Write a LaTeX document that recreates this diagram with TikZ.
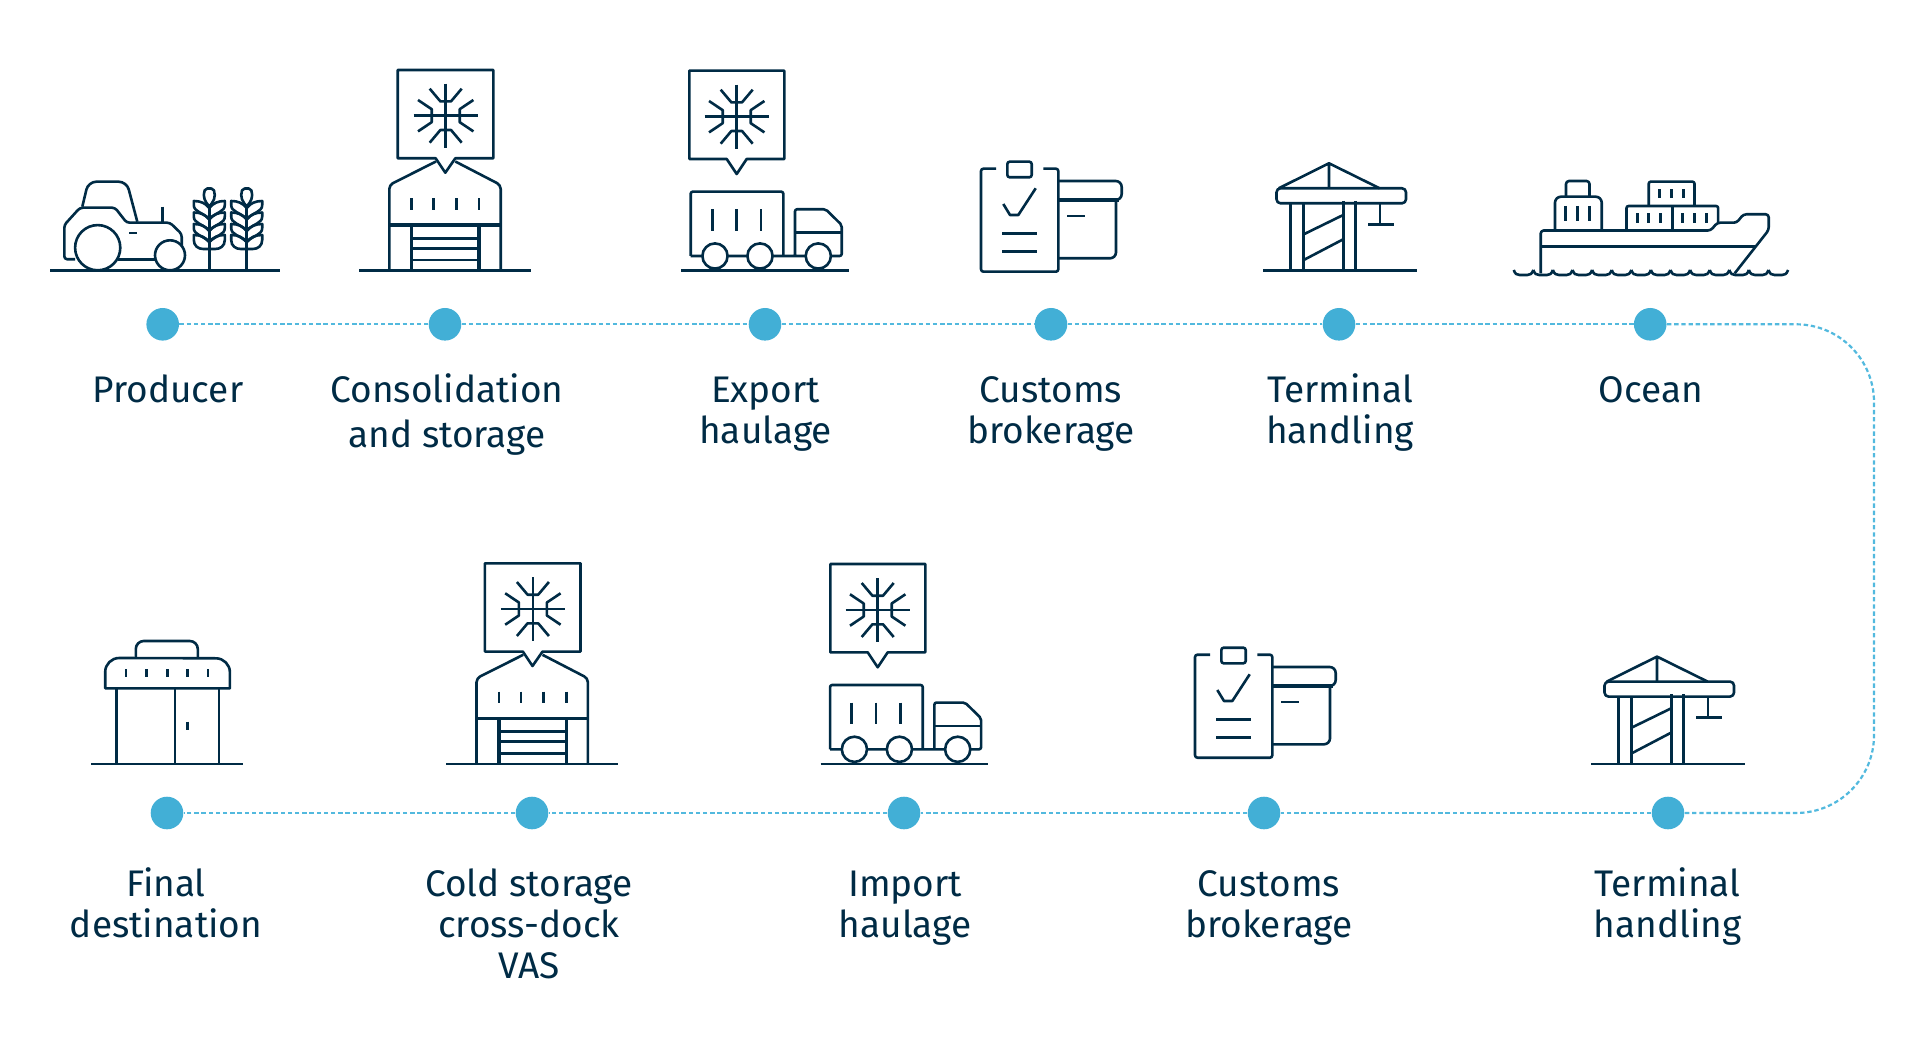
\documentclass[tikz,border=0pt]{standalone}
\usepackage{fontspec}
\setmainfont{Fira Sans}
\definecolor{ink}{HTML}{002B45}
\definecolor{dotblue}{HTML}{42AFD6}
\definecolor{routeblue}{HTML}{52B9DE}
\tikzset{
  icon/.style={draw=ink,line width=1.3pt,line join=round,fill=none},
  heavy/.style={draw=ink,line width=1.7pt},
  wheel/.style={draw=ink,line width=1.3pt,fill=white},
  stopdot/.style={circle,fill=dotblue,draw=none,inner sep=0pt,minimum size=16.3pt},
  route/.style={draw=routeblue,line width=1.1pt,dash pattern=on 2.2pt off 1.4pt},
  lab/.style={text=ink,inner sep=0pt,anchor=base,align=center,font=\fontsize{18.5}{20.5}\selectfont},
  pics/flake/.style={code={
    \draw[icon] (0,-32)--(0,32) (-32,0)--(32,0);
    \draw[icon] (-16,-27)--(-5.3,-14.3)--(5.3,-14.3)--(16,-27);
    \draw[icon] (-16,27)--(-5.3,14.3)--(5.3,14.3)--(16,27);
    \draw[icon] (-27.7,-15.7)--(-14,-6.5)--(-14,6.5)--(-27.7,15.7);
    \draw[icon] (27.7,-15.7)--(14,-6.5)--(14,6.5)--(27.7,15.7);
  }},
  pics/truckcallout/.style={code={
    \draw[icon] (689.3,70.7)--(784.3,70.7)--(784.3,159)--(746.7,159)--(736.7,174)--(726.7,159)--(689.3,159)--cycle;
    \pic at (736.7,116.7) {flake};
  }},
  pics/truckicon/.style={code={
    \draw[icon,rounded corners=1pt] (690.7,256)--(690.7,191.7)--(783.3,191.7)--(783.3,256);
    \draw[icon] (712.3,209.3)--(712.3,230.7) (736.7,209.3)--(736.7,230.7) (761,209.3)--(761,230.7);
    \draw[icon,rounded corners=1pt] (690.7,256)--(841.7,256)--(841.7,225)--(825.7,209.3)--(795,209.3)--(795,256);
    \draw[icon] (795,232.7)--(841.7,232.7);
    \draw[wheel] (715,256) circle[radius=6.3pt];
    \draw[wheel] (760,256) circle[radius=6.3pt];
    \draw[wheel] (818.3,256) circle[radius=6.3pt];
    \draw[icon] (681.3,270.7)--(849,270.7);
  }},
  pics/storeicon/.style={code={
    \draw[icon] (397.7,70)--(493.3,70)--(493.3,158.3)--(455.3,158.3)--(445.3,172.7)--(435.7,158.3)--(397.7,158.3)--cycle;
    \pic at (445.7,115.7) {flake};
    \draw[icon,rounded corners=2pt] (436,161.5)--(389.3,185)--(389.3,270.7);
    \draw[icon,rounded corners=2pt] (455.3,161.5)--(500.7,185)--(500.7,270.7);
    \draw[heavy] (389.3,225)--(500.7,225);
    \draw[heavy] (411.7,225)--(411.7,270.7) (479,225)--(479,270.7);
    \draw[icon] (411.7,238.3)--(479,238.3) (411.7,248.3)--(479,248.3) (411.7,260)--(479,260);
    \draw[icon] (411.7,198.3)--(411.7,210) (433.7,198.3)--(433.7,210) (456.3,198.3)--(456.3,210) (479,198.3)--(479,210);
    \draw[icon] (359,270.7)--(531,270.7);
  }},
  pics/customsicon/.style={code={
    \draw[icon,rounded corners=1.2pt] (996,168.7)--(981,168.7)--(981,271.7)--(1058.3,271.7)--(1058.3,168.7)--(1043.3,168.7);
    \draw[icon,rounded corners=1.2pt] (1007.3,161.7) rectangle (1031.7,177.3);
    \draw[icon] (1003.3,204)--(1010,215)--(1018.3,215)--(1035.7,188.3);
    \draw[icon] (1002.3,233.3)--(1036.7,233.3) (1002.3,251.7)--(1036.7,251.7);
    \draw[icon,rounded corners=3pt] (1058.3,181)--(1121.7,181)--(1121.7,200)--(1058.3,200);
    \draw[heavy] (1058.3,200)--(1119,200);
    \draw[icon,rounded corners=3pt] (1116,200)--(1116,258.3)--(1058.3,258.3);
    \draw[icon] (1067.3,216)--(1085,216);
  }},
  pics/craneicon/.style={code={
    \draw[icon,rounded corners=2pt] (1276.5,188.3) rectangle (1406,203.3);
    \draw[icon] (1278.7,188.3)--(1329,163.3)--(1379.6,188.3) (1329,163.3)--(1329,188.3);
    \draw[icon] (1290.7,203.3)--(1290.7,270.7) (1303.7,203.3)--(1303.7,270.7) (1343.2,201)--(1343.2,270.7) (1355.4,201)--(1355.4,270.7);
    \draw[icon] (1303.7,234.3)--(1343.2,215) (1303.7,260)--(1343.2,239.3);
    \draw[icon] (1380,203.3)--(1380,224.3) (1368,224.3)--(1393.5,224.3);
    \draw[icon] (1263,270.7)--(1416.5,270.7);
  }},
}
\begin{document}
\begin{tikzpicture}[x=0.5pt,y=-0.5pt]
\useasboundingbox (0,0) rectangle (1920,1058);
% --- tractor and wheat
\draw[icon,rounded corners=1.5pt] (75,259.3)--(64.3,259.3)--(64.3,225)--(80,207.7)--(115,207.7)--(126.7,222.7)--(170,222.7)--(181.7,234)--(181.7,250);
\draw[icon] (118,259.3)--(156,259.3);
\draw[icon,rounded corners=4pt] (82.3,206.7)--(88.3,181.7)--(126.7,181.7)--(137.3,221.7);
\draw[icon] (162.7,206.7)--(162.7,222.7) (129,233)--(137.3,233);
\draw[wheel] (97.7,247.7) circle[radius=11.3pt];
\draw[wheel] (170,255.3) circle[radius=7.5pt];
\foreach \sx in {209.3,246.7}{
  \draw[icon] (\sx,206)--(\sx,270.7);
  \draw[icon,rounded corners=1pt] (\sx,206.5)..controls ({\sx-4},202) and ({\sx-7},197)..({\sx-4},188.5)--({\sx+4},188.5)..controls ({\sx+7},197) and ({\sx+4},202)..(\sx,206.5);
  \foreach \sy in {201,212.5,224}{
    \draw[icon] (\sx,{\sy+7})..controls ({\sx-4},{\sy+2}) and ({\sx-9},\sy)..({\sx-15.5},\sy)--({\sx-15.5},{\sy+4})..controls ({\sx-15.5},{\sy+11}) and ({\sx-7},{\sy+11})..(\sx,{\sy+18});
    \draw[icon] (\sx,{\sy+7})..controls ({\sx+4},{\sy+2}) and ({\sx+9},\sy)..({\sx+15.5},\sy)--({\sx+15.5},{\sy+4})..controls ({\sx+15.5},{\sy+11}) and ({\sx+7},{\sy+11})..(\sx,{\sy+18});
  }
  \draw[icon] (\sx,242)..controls ({\sx-4},237) and ({\sx-9},235)..({\sx-15.5},235)--({\sx-15.5},240)..controls ({\sx-15.5},246) and ({\sx-11},249)..({\sx-6},249)--({\sx+6},249)..controls ({\sx+11},249) and ({\sx+15.5},246)..({\sx+15.5},240)--({\sx+15.5},235)..controls ({\sx+9},235) and ({\sx+4},237)..(\sx,242);
}
\draw[icon] (50,270.7)--(280,270.7);
% --- repeated icons
\pic at (0,0) {storeicon};
\pic at (0,0) {truckcallout};
\pic at (0,0) {truckicon};
\pic at (0,0) {customsicon};
\pic at (0,0) {craneicon};
\pic at (87.2,493.3) {storeicon};
\pic at (141,493.3) {truckcallout};
\pic at (139.4,493.3) {truckicon};
\pic at (214,486) {customsicon};
\pic at (328,493.3) {craneicon};
% --- ship
\begin{scope}[xshift=-1.15pt]
\draw[icon,rounded corners=1.5pt] (1543,273.3)--(1543,230.5)--(1713,230.5)--(1719.5,222.7)--(1739,222.7)--(1745.7,214.3)--(1771,214.3)--(1771,230)--(1737,273.3);
\draw[heavy] (1543,246.7)--(1758.7,246.7);
\draw[icon,rounded corners=3pt] (1557.3,230)--(1557.3,196.7)--(1604,196.7)--(1604,230);
\draw[icon,rounded corners=1.5pt] (1568.3,196.7)--(1568.3,181)--(1591.8,181)--(1591.8,196.7);
\draw[icon] (1568,206)--(1568,220.7) (1580,206)--(1580,220.7) (1592,206)--(1592,220.7);
\draw[icon,rounded corners=1pt] (1651,205)--(1651,181.7)--(1696.8,181.7)--(1696.8,205);
\draw[icon] (1662,189.3)--(1662,198.3) (1673.7,189.3)--(1673.7,198.3) (1685.5,189.3)--(1685.5,198.3);
\draw[icon,rounded corners=1pt] (1628.8,230)--(1628.8,206)--(1720.4,206)--(1720.4,222);
\draw[icon] (1675,206)--(1675,230);
\draw[icon] (1639.7,213.3)--(1639.7,222.7) (1651,213.3)--(1651,222.7) (1662.8,213.3)--(1662.8,222.7) (1684.6,213.3)--(1684.6,222.7) (1696.8,213.3)--(1696.8,222.7) (1708.6,213.3)--(1708.6,222.7);
\foreach \wx in {1516,1535.6,1555.2,1574.8,1594.4,1614,1633.6,1653.2,1672.8,1692.4,1712,1731.6,1751.2,1770.8}{
  \draw[icon] (\wx,270)..controls ({\wx+1.5},274) and ({\wx+3},275)..({\wx+6},275)--({\wx+13.6},275)..controls ({\wx+16.6},275) and ({\wx+18},274)..({\wx+19.6},270);
}
\end{scope}
% --- shop
\draw[icon,rounded corners=4pt] (135.8,658.3)--(135.8,641)--(197.8,641)--(197.8,658.3);
\draw[icon] (105.2,688.3)--(105.2,672) arc[start angle=180,end angle=90,radius=7pt] --(215.9,658.3) arc[start angle=90,end angle=0,radius=7pt] --(229.9,688.3)--cycle;
\draw[icon] (125.8,669.3)--(125.8,677.3) (146.5,669.3)--(146.5,677.3) (167.2,669.3)--(167.2,677.3) (187.4,669.3)--(187.4,677.3) (208.1,669.3)--(208.1,677.3);
\draw[icon] (116.3,688.3)--(116.3,764) (218.8,688.3)--(218.8,764) (174.8,688.3)--(174.8,764);
\draw[icon] (187.4,721.7)--(187.4,730);
\draw[icon] (91.4,764)--(243,764);
% --- route stops
\node[stopdot] (d1) at (162.7,324.3) {};
\node[stopdot] (d2) at (445,324.3) {};
\node[stopdot] (d3) at (765,324.3) {};
\node[stopdot] (d4) at (1051,324.3) {};
\node[stopdot] (d5) at (1339,324.3) {};
\node[stopdot] (d6) at (1650.2,324.3) {};
\node[stopdot] (d7) at (1668,813) {};
\node[stopdot] (d8) at (1264,813) {};
\node[stopdot] (d9) at (904,813) {};
\node[stopdot] (d10) at (532,813) {};
\node[stopdot] (d11) at (167,813) {};
\coordinate (ctop) at (1874,324.3);
\coordinate (cbot) at (1874,813);
\draw[route] (d1)--(d2);
\draw[route] (d2)--(d3);
\draw[route] (d3)--(d4);
\draw[route] (d4)--(d5);
\draw[route] (d5)--(d6);
\draw[route,rounded corners=39pt] (d6)--(ctop)--(cbot)--(d7);
\draw[route] (d7)--(d8);
\draw[route] (d8)--(d9);
\draw[route] (d9)--(d10);
\draw[route] (d10)--(d11);
% --- labels
\node[lab] (l1) at (168,402.7) {Producer};
\node[lab] (l2) at (447,447.7) {Consolidation\\[2pt]and storage};
\node[lab] (l3) at (765.5,443.7) {Export\\haulage};
\node[lab] (l4) at (1051,443.7) {Customs\\brokerage};
\node[lab] (l5) at (1340,443.7) {Terminal\\handling};
\node[lab] (l6) at (1651,402.7) {Ocean};
\node[lab] (l7) at (166,937.7) {Final\\destination};
\node[lab] (l8) at (529,978.7) {Cold storage\\cross-dock\\VAS};
\node[lab] (l9) at (905,937.7) {Import\\haulage};
\node[lab] (l10) at (1269,937.7) {Customs\\brokerage};
\node[lab] (l11) at (1667.5,937.7) {Terminal\\handling};
\end{tikzpicture}
\end{document}
